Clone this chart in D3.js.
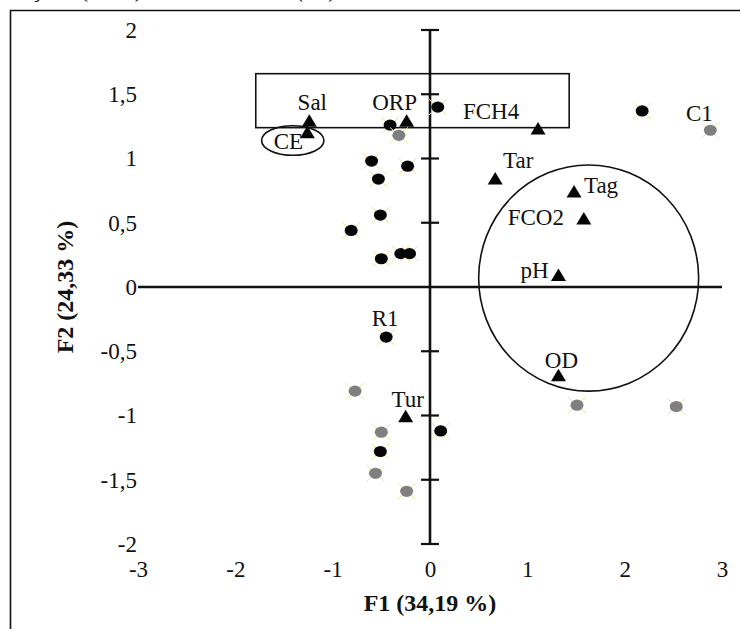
<!DOCTYPE html>
<html>
<head>
<meta charset="utf-8">
<script src="https://cdn.jsdelivr.net/npm/d3@7"></script>
<style>
  html, body { margin: 0; padding: 0; background: #fff; }
  svg { display: block; }
  text { font-family: "Liberation Serif", "Times New Roman", serif; fill: #111; }
</style>
</head>
<body>
<svg id="chart" width="740" height="629"></svg>
<script>
// PCA biplot: F1 x F2, variables (triangles) and samples (circles)

// Axis ticks
const xTicks = [-3, -2, -1, 0, 1, 2, 3];
const yTicks = [-2, -1.5, -1, -0.5, 0, 0.5, 1, 1.5, 2];

// Variables (loadings)
const varNames = ["Sal", "CE", "ORP", "FCH4", "Tar", "Tag", "FCO2", "pH", "OD", "Tur"];
const varF1 = [-1.24, -1.26, -0.24, 1.11, 0.67, 1.48, 1.58, 1.32, 1.32, -0.25];
const varF2 = [1.29, 1.20, 1.29, 1.23, 0.84, 0.74, 0.53, 0.09, -0.69, -1.01];

// Samples, group A (black)
const blackNames = ["", "", "", "", "", "", "", "", "", "", "R1", "", "", ""];
const blackF1 = [0.08, -0.41, -0.60, -0.23, -0.53, -0.51, -0.81, -0.50, -0.30, -0.21, -0.45, 0.11, -0.51, 2.18];
const blackF2 = [1.40, 1.26, 0.98, 0.94, 0.84, 0.56, 0.44, 0.22, 0.26, 0.26, -0.39, -1.12, -1.28, 1.37];

// Samples, group B (grey)
const greyNames = ["", "C1", "", "", "", "", "", ""];
const greyF1 = [-0.32, 2.88, -0.77, -0.50, -0.56, -0.24, 1.51, 2.53];
const greyF2 = [1.18, 1.22, -0.81, -1.13, -1.45, -1.59, -0.92, -0.93];

// Highlight shapes (data units)
const boxF1 = [-1.79, 1.43];
const boxF2 = [1.24, 1.66];
const ceEllipse = { f1: -1.41, f2: 1.14, r1: 0.32, r2: 0.115 };
const bigEllipse = { f1: 1.63, f2: 0.07, r1: 1.13, r2: 0.88 };

// Label placement (pixel offsets from the mark)
const labelOffset = {
  Sal: [3, -19], CE: [-19, 9], ORP: [-12, -19], FCH4: [-47, -17],
  Tar: [23, -19], Tag: [27, -6], FCO2: [-48, -1], pH: [-24, -5],
  OD: [3, -15], Tur: [2, -17], R1: [-1, -19], C1: [-11, -17]
};

const svg = d3.select("#chart");
const x = d3.scaleLinear().domain([-3, 3]).range([138, 722]);
const y = d3.scaleLinear().domain([-2, 2]).range([544, 30]);
const fmt = d => String(d).replace(".", ",");

// Caption line running off the top edge (only its descenders remain)
svg.append("text")
  .attr("y", -3)
  .attr("font-size", 24)
  .selectAll("tspan")
  .data([["ção", 31], ["(ACP)", 80], ["das amostras", 150], ["(F1)", 295]])
  .join("tspan")
  .attr("x", d => d[1])
  .text(d => d[0]);

// Outer frame (left and top edges)
svg.append("path")
  .attr("d", "M10.5,629 V10.5 H740")
  .attr("fill", "none")
  .attr("stroke", "#111")
  .attr("stroke-width", 1.6);

// Tick labels via d3 axes (lines hidden)
const yAxis = svg.append("g")
  .attr("transform", "translate(137,0)")
  .call(d3.axisLeft(y).tickValues(yTicks).tickFormat(fmt).tickSize(0).tickPadding(0));
yAxis.select(".domain").remove();
yAxis.selectAll("text")
  .attr("font-size", 23)
  .attr("font-family", "Liberation Serif, Times New Roman, serif")
  .attr("fill", "#111");

const xAxis = svg.append("g")
  .attr("transform", "translate(0,561)")
  .call(d3.axisBottom(x).tickValues(xTicks).tickFormat(fmt).tickSize(0).tickPadding(0));
xAxis.select(".domain").remove();
xAxis.selectAll("text")
  .attr("font-size", 23)
  .attr("font-family", "Liberation Serif, Times New Roman, serif")
  .attr("fill", "#111");

// Axis titles
svg.append("text")
  .attr("x", 430).attr("y", 611)
  .attr("text-anchor", "middle")
  .attr("font-size", 24).attr("font-weight", "bold")
  .text("F1 (34,19 %)");
svg.append("text")
  .attr("transform", "translate(73,287) rotate(-90)")
  .attr("text-anchor", "middle")
  .attr("font-size", 24).attr("font-weight", "bold")
  .text("F2 (24,33 %)");

// Crossing axes at the origin
svg.append("line")
  .attr("x1", x(-3)).attr("x2", x(3))
  .attr("y1", y(0)).attr("y2", y(0))
  .attr("stroke", "#111").attr("stroke-width", 2.6);
svg.append("line")
  .attr("x1", x(0)).attr("x2", x(0))
  .attr("y1", y(2)).attr("y2", y(-2))
  .attr("stroke", "#111").attr("stroke-width", 2.6);
svg.append("g").selectAll("line")
  .data(yTicks.filter(d => d !== 0))
  .join("line")
  .attr("x1", x(0) - 9).attr("x2", x(0) + 9)
  .attr("y1", d => y(d)).attr("y2", d => y(d))
  .attr("stroke", "#111").attr("stroke-width", 2.2);

// Highlight shapes
svg.append("rect")
  .attr("x", x(boxF1[0])).attr("y", y(boxF2[1]))
  .attr("width", x(boxF1[1]) - x(boxF1[0]))
  .attr("height", y(boxF2[0]) - y(boxF2[1]))
  .attr("fill", "none").attr("stroke", "#111").attr("stroke-width", 1.6);
[ceEllipse, bigEllipse].forEach(e => {
  svg.append("ellipse")
    .attr("cx", x(e.f1)).attr("cy", y(e.f2))
    .attr("rx", x(e.f1 + e.r1) - x(e.f1))
    .attr("ry", y(e.f2) - y(e.f2 + e.r2))
    .attr("fill", "none").attr("stroke", "#111").attr("stroke-width", 1.6);
});

// Sample markers: dot over a faint yellow cross
function drawSamples(names, f1, f2, fill) {
  const pts = names.map((n, i) => ({ name: n, f1: f1[i], f2: f2[i] }));
  const g = svg.append("g").selectAll("g")
    .data(pts).join("g")
    .attr("transform", d => `translate(${x(d.f1)},${y(d.f2)})`);
  g.append("path")
    .attr("d", "M-9,-8L9,8M-9,8L9,-8")
    .attr("stroke", "#f8df9a").attr("stroke-width", 1);
  g.append("ellipse")
    .attr("rx", 6.5).attr("ry", 5.6)
    .attr("fill", fill);
  return pts;
}
const blackPts = drawSamples(blackNames, blackF1, blackF2, "#050505");
const greyPts = drawSamples(greyNames, greyF1, greyF2, "#7f7f7f");

// Variable triangles
const varPts = varNames.map((n, i) => ({ name: n, f1: varF1[i], f2: varF2[i] }));
svg.append("g").selectAll("path")
  .data(varPts).join("path")
  .attr("transform", d => `translate(${x(d.f1)},${y(d.f2)})`)
  .attr("d", "M0,-7L7.5,5.5L-7.5,5.5Z")
  .attr("fill", "#050505");

// Labels
const labelled = varPts.concat(blackPts, greyPts).filter(d => d.name);
svg.append("g").selectAll("text")
  .data(labelled).join("text")
  .attr("x", d => x(d.f1) + labelOffset[d.name][0])
  .attr("y", d => y(d.f2) + labelOffset[d.name][1])
  .attr("text-anchor", "middle")
  .attr("dominant-baseline", "central")
  .attr("font-size", 23)
  .text(d => d.name);
</script>
</body>
</html>
